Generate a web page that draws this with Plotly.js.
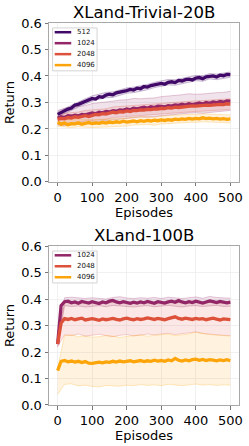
<!DOCTYPE html>
<html><head><meta charset="utf-8">
<script src="https://cdn.plot.ly/plotly-3.0.1.min.js"></script>
<style>html,body{margin:0;padding:0;background:#fff}#c{width:249px;height:446px}</style>
</head><body><div id="c"></div>
<script>
// ---------- data ----------
const xMean = [0,10,20,30,40,50,60,70,80,90,100,110,120,130,140,150,160,170,180,190,200,210,220,230,240,250,260,270,280,290,300,310,320,330,340,350,360,370,380,390,400,410,420,430,440,450,460,470,480,490,500];
const xBand = [0,20,40,60,80,100,120,140,160,180,200,220,240,260,280,300,320,340,360,380,400,420,440,460,480,500];

// XLand-Trivial-20B
const triv512 = [0.255,0.262,0.268,0.275,0.279,0.290,0.293,0.298,0.303,0.309,0.315,0.313,0.322,0.320,0.328,0.331,0.329,0.336,0.338,0.343,0.345,0.349,0.347,0.354,0.352,0.360,0.358,0.364,0.366,0.370,0.372,0.369,0.376,0.378,0.375,0.383,0.381,0.386,0.388,0.385,0.392,0.394,0.390,0.397,0.399,0.400,0.396,0.403,0.401,0.406,0.405];
const triv1024 = [0.240,0.246,0.243,0.250,0.248,0.252,0.249,0.255,0.253,0.258,0.260,0.257,0.263,0.261,0.266,0.264,0.269,0.267,0.272,0.270,0.275,0.272,0.278,0.276,0.279,0.282,0.278,0.284,0.281,0.286,0.285,0.283,0.288,0.286,0.291,0.289,0.293,0.290,0.295,0.292,0.295,0.298,0.294,0.300,0.297,0.302,0.299,0.304,0.301,0.306,0.305];
const triv2048 = [0.236,0.240,0.238,0.243,0.241,0.246,0.244,0.248,0.250,0.247,0.252,0.255,0.253,0.258,0.256,0.260,0.263,0.261,0.265,0.264,0.268,0.266,0.270,0.269,0.272,0.271,0.274,0.273,0.276,0.275,0.278,0.277,0.280,0.279,0.282,0.281,0.283,0.285,0.284,0.287,0.286,0.288,0.287,0.290,0.289,0.291,0.290,0.293,0.292,0.295,0.294];
const triv4096 = [0.225,0.218,0.222,0.216,0.220,0.219,0.223,0.218,0.221,0.224,0.220,0.223,0.221,0.225,0.222,0.226,0.224,0.227,0.225,0.229,0.226,0.228,0.230,0.227,0.231,0.229,0.232,0.230,0.233,0.231,0.234,0.232,0.235,0.233,0.237,0.235,0.238,0.236,0.240,0.237,0.240,0.238,0.242,0.239,0.241,0.238,0.240,0.237,0.239,0.236,0.238];

const triv512Hi = [0.265,0.278,0.290,0.303,0.314,0.325,0.333,0.338,0.340,0.348,0.355,0.358,0.362,0.368,0.376,0.382,0.387,0.386,0.391,0.398,0.402,0.401,0.409,0.407,0.411,0.415];
const triv512Lo = [0.245,0.258,0.269,0.283,0.293,0.305,0.312,0.318,0.319,0.328,0.335,0.337,0.342,0.348,0.356,0.362,0.366,0.365,0.371,0.378,0.382,0.380,0.389,0.386,0.391,0.395];
const triv1024Hi = [0.270,0.278,0.282,0.286,0.288,0.296,0.299,0.300,0.305,0.309,0.310,0.315,0.314,0.316,0.317,0.322,0.324,0.328,0.329,0.333,0.331,0.332,0.335,0.337,0.338,0.342];
const triv1024Lo = [0.215,0.212,0.216,0.218,0.220,0.226,0.229,0.232,0.234,0.238,0.241,0.243,0.245,0.244,0.247,0.250,0.253,0.256,0.258,0.260,0.261,0.259,0.262,0.265,0.266,0.270];
const triv2048Hi = [0.256,0.258,0.261,0.264,0.270,0.272,0.273,0.276,0.283,0.285,0.288,0.290,0.292,0.294,0.296,0.298,0.300,0.302,0.303,0.304,0.306,0.307,0.309,0.310,0.312,0.314];
const triv2048Lo = [0.216,0.218,0.221,0.224,0.230,0.232,0.233,0.236,0.243,0.245,0.248,0.250,0.252,0.254,0.256,0.258,0.260,0.262,0.263,0.264,0.266,0.267,0.269,0.270,0.272,0.274];
const triv4096Hi = [0.240,0.237,0.235,0.238,0.236,0.235,0.236,0.237,0.239,0.240,0.241,0.245,0.246,0.247,0.244,0.249,0.250,0.252,0.253,0.255,0.255,0.257,0.256,0.255,0.254,0.253];
const triv4096Lo = [0.210,0.207,0.205,0.208,0.206,0.205,0.206,0.207,0.209,0.210,0.211,0.215,0.216,0.217,0.214,0.219,0.220,0.222,0.223,0.225,0.225,0.227,0.226,0.225,0.224,0.223];

// XLand-100B
const big1024 = [0.230,0.375,0.390,0.392,0.386,0.389,0.384,0.391,0.388,0.385,0.390,0.387,0.383,0.389,0.386,0.392,0.395,0.389,0.386,0.390,0.387,0.384,0.388,0.385,0.389,0.386,0.391,0.388,0.384,0.390,0.387,0.385,0.389,0.392,0.388,0.394,0.389,0.386,0.390,0.387,0.392,0.388,0.385,0.389,0.393,0.390,0.387,0.391,0.389,0.386,0.388];
const big2048 = [0.230,0.310,0.326,0.323,0.327,0.322,0.325,0.328,0.321,0.324,0.326,0.323,0.320,0.325,0.322,0.324,0.327,0.323,0.321,0.325,0.328,0.324,0.322,0.326,0.323,0.325,0.329,0.326,0.323,0.327,0.325,0.322,0.326,0.329,0.333,0.327,0.324,0.328,0.325,0.323,0.327,0.324,0.326,0.322,0.325,0.328,0.324,0.321,0.325,0.323,0.322];
const big4096 = [0.130,0.165,0.168,0.163,0.166,0.162,0.165,0.160,0.164,0.158,0.157,0.160,0.162,0.159,0.163,0.161,0.165,0.162,0.166,0.163,0.164,0.167,0.163,0.166,0.168,0.164,0.167,0.165,0.169,0.166,0.168,0.165,0.170,0.167,0.176,0.169,0.166,0.170,0.167,0.171,0.173,0.169,0.172,0.168,0.171,0.169,0.167,0.170,0.168,0.171,0.167];

const big1024Hi = [0.240,0.405,0.407,0.404,0.402,0.405,0.403,0.400,0.406,0.409,0.404,0.402,0.405,0.403,0.406,0.402,0.407,0.404,0.402,0.405,0.408,0.403,0.410,0.406,0.404,0.403];
const big1024Lo = [0.220,0.375,0.372,0.374,0.370,0.373,0.375,0.371,0.376,0.374,0.372,0.370,0.373,0.375,0.371,0.374,0.376,0.373,0.370,0.374,0.375,0.372,0.373,0.376,0.372,0.373];
const big2048Hi = [0.240,0.385,0.388,0.384,0.386,0.387,0.383,0.386,0.388,0.385,0.387,0.384,0.386,0.389,0.385,0.387,0.390,0.386,0.388,0.386,0.387,0.385,0.388,0.386,0.384,0.385];
const big2048Lo = [0.220,0.265,0.262,0.268,0.260,0.264,0.267,0.262,0.258,0.263,0.266,0.261,0.264,0.268,0.265,0.269,0.271,0.266,0.270,0.274,0.276,0.270,0.267,0.265,0.263,0.262];
const big4096Hi = [0.140,0.262,0.265,0.258,0.260,0.256,0.258,0.262,0.260,0.255,0.259,0.262,0.264,0.260,0.263,0.266,0.268,0.262,0.265,0.268,0.275,0.270,0.266,0.264,0.262,0.260];
const big4096Lo = [0.040,0.078,0.080,0.072,0.075,0.070,0.068,0.074,0.072,0.071,0.075,0.073,0.077,0.074,0.076,0.073,0.078,0.075,0.073,0.076,0.079,0.075,0.077,0.074,0.076,0.075];

const xTicks = [0,100,200,300,400,500];
const yTicks = [0,0.1,0.2,0.3,0.4,0.5,0.6];
const titles = ['XLand-Trivial-20B','XLand-100B'];
const colors = {'512':[66,10,104],'1024':[147,38,103],'2048':[221,81,58],'4096':[252,165,10]};

const topSeries = [
  {name:'512', y:triv512, hi:triv512Hi, lo:triv512Lo},
  {name:'1024', y:triv1024, hi:triv1024Hi, lo:triv1024Lo},
  {name:'2048', y:triv2048, hi:triv2048Hi, lo:triv2048Lo},
  {name:'4096', y:triv4096, hi:triv4096Hi, lo:triv4096Lo}
];
const botSeries = [
  {name:'1024', y:big1024, hi:big1024Hi, lo:big1024Lo},
  {name:'2048', y:big2048, hi:big2048Hi, lo:big2048Lo},
  {name:'4096', y:big4096, hi:big4096Hi, lo:big4096Lo}
];

function rgba(c,a){return 'rgba('+c[0]+','+c[1]+','+c[2]+','+a+')';}
const font = 'DejaVu Sans, sans-serif';

const traces = [], shapes = [], annotations = [];
function addPanel(list, xa, ya, title){
  list.forEach(s=>{
    const c = colors[s.name];
    traces.push({x:xBand, y:s.lo, xaxis:xa, yaxis:ya, mode:'lines', line:{color:rgba(c,0.25), width:1}, showlegend:false, hoverinfo:'skip'});
    traces.push({x:xBand, y:s.hi, xaxis:xa, yaxis:ya, mode:'lines', line:{color:rgba(c,0.25), width:1}, fill:'tonexty', fillcolor:rgba(c,0.13), showlegend:false, hoverinfo:'skip'});
  });
  list.forEach(s=>{
    const c = colors[s.name];
    traces.push({x:xMean, y:s.y, xaxis:xa, yaxis:ya, mode:'lines', name:s.name, showlegend:false, line:{color:rgba(c,1), width:3.3}});
  });
  // legend drawn in the axes' domain coordinates
  const xr = (xa==='x'?'x':'x2')+' domain', yr = (ya==='y'?'y':'y2')+' domain';
  const row0 = 0.942, dRow = 0.069;
  const boxBottom = row0 - dRow*(list.length-1) - 0.036;
  shapes.push({type:'rect', xref:xr, yref:yr, x0:0.019, x1:0.253, y0:boxBottom, y1:0.969, line:{color:'#d4d4d4', width:1}, fillcolor:'rgba(255,255,255,0.85)', layer:'above'});
  list.forEach((s,i)=>{
    const yy = row0 - dRow*i;
    shapes.push({type:'line', xref:xr, yref:yr, x0:0.03, x1:0.117, y0:yy, y1:yy, line:{color:rgba(colors[s.name],1), width:2.5}, layer:'above'});
    annotations.push({text:s.name, xref:xr, yref:yr, x:0.138, y:yy, xanchor:'left', yanchor:'middle', showarrow:false, font:{family:font, size:7, color:'#111'}});
  });
  annotations.push({text:title, xref:xr, yref:yr, x:0.5, y:1, xanchor:'center', yanchor:'bottom', yshift:-1, showarrow:false, font:{family:font, size:16.5, color:'#000'}});
}
addPanel(topSeries,'x','y',titles[0]);
addPanel(botSeries,'x2','y2',titles[1]);

const axCommon = {
  showline:true, mirror:true, linecolor:'#a8a8a8', linewidth:1,
  ticks:'outside', ticklen:3.5, tickcolor:'#555', tickwidth:0.8,
  showgrid:true, gridcolor:'#ededed', gridwidth:0.8, zeroline:false,
  tickfont:{family:font, size:13, color:'#000'}
};

const layout = {
  width:249, height:446,
  margin:{l:49, r:10, t:23, b:41},
  paper_bgcolor:'#fff', plot_bgcolor:'#fff',
  font:{family:font, color:'#000'},
  showlegend:false,
  xaxis: Object.assign({}, axCommon, {domain:[0,1], anchor:'y', range:[-25,525], tickvals:xTicks,
    title:{text:'Episodes', font:{family:font,size:13}, standoff:0}}),
  yaxis: Object.assign({}, axCommon, {domain:[0.584,1], anchor:'x', range:[0,0.6], tickvals:yTicks, ticktext:yTicks.map(v=>v.toFixed(1)),
    title:{text:'Return', font:{family:font,size:13}, standoff:3}}),
  xaxis2: Object.assign({}, axCommon, {domain:[0,1], anchor:'y2', range:[-25,525], tickvals:xTicks,
    title:{text:'Episodes', font:{family:font,size:13}, standoff:0}}),
  yaxis2: Object.assign({}, axCommon, {domain:[0,0.416], anchor:'x2', range:[0,0.6], tickvals:yTicks, ticktext:yTicks.map(v=>v.toFixed(1)),
    title:{text:'Return', font:{family:font,size:13}, standoff:3}}),
  shapes: shapes,
  annotations: annotations
};
Plotly.newPlot('c', traces, layout, {displayModeBar:false, staticPlot:true});
</script></body></html>
